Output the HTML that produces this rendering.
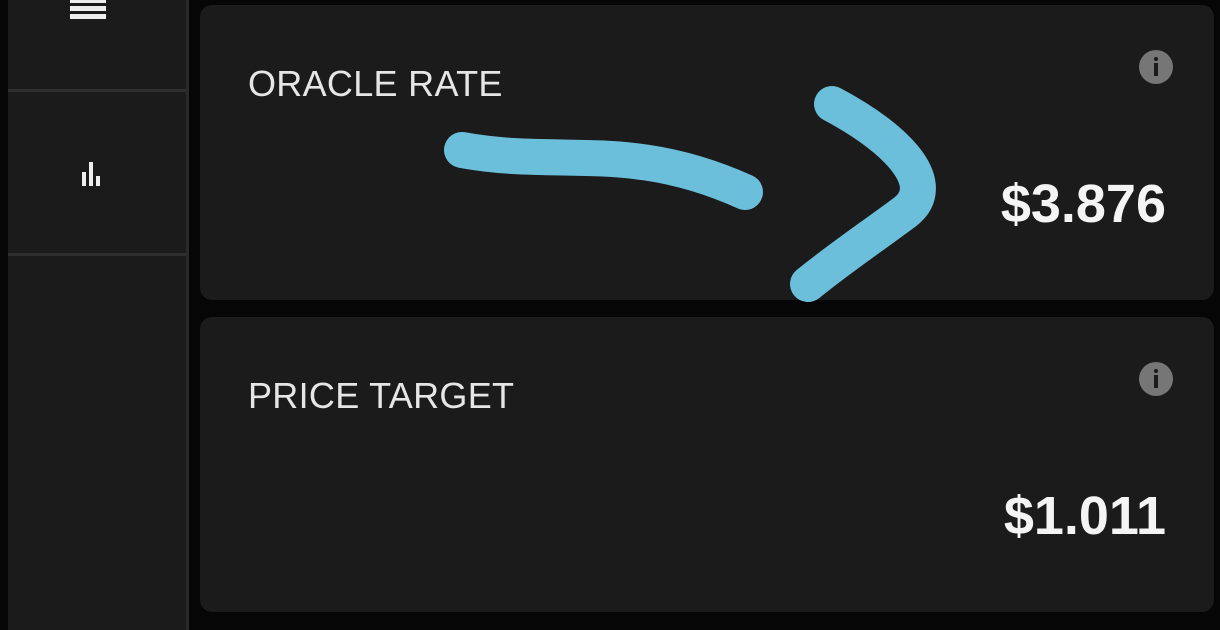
<!DOCTYPE html>
<html><head><meta charset="utf-8"><style>
html,body{margin:0;padding:0;background:#060606;width:1220px;height:618px;overflow:hidden;font-family:"Liberation Sans",sans-serif}
.side{position:absolute;left:8px;top:-10px;width:178px;height:640px;background:#1b1b1b;border-right:3px solid #2a2a2a}
.div{position:absolute;left:0;width:178px;height:3px;background:#2e2e2e}
.card{position:absolute;left:200px;width:1014px;height:295px;background:#1b1b1b;border-radius:12px}
.label{position:absolute;left:48px;top:58px;font-size:36px;color:#e6e6e6;font-weight:300;letter-spacing:0.3px}
.val{position:absolute;right:48px;top:168px;font-size:54px;font-weight:bold;color:#f4f4f4}
.info{position:absolute;left:939px;top:45px;width:34px;height:34px;border-radius:50%;background:#767676}
.info::before{content:"";position:absolute;left:15px;top:7px;width:4px;height:4px;background:#1b1b1b;border-radius:50%}
.info::after{content:"";position:absolute;left:15px;top:13px;width:4px;height:13px;background:#1b1b1b}
</style></head><body>
<div class="side">
  <div style="position:absolute;left:62px;top:8px;width:36px;height:22px">
    <div style="height:5px;background:#eee;margin-bottom:3px"></div><div style="height:5px;background:#eee;margin-bottom:3px"></div><div style="height:5px;background:#eee"></div>
  </div>
  <div class="div" style="top:99px"></div>
  <div style="position:absolute;left:67px;top:170px;width:26px;height:26px">
    <div style="position:absolute;left:7px;bottom:0;width:4px;height:14px;background:#eee"></div>
    <div style="position:absolute;left:14px;bottom:0;width:4px;height:24px;background:#eee"></div>
    <div style="position:absolute;left:21px;bottom:0;width:4px;height:10px;background:#eee"></div>
  </div>
  <div class="div" style="top:263px"></div>
</div>
<div class="card" style="top:5px">
  <div class="label">ORACLE RATE</div>
  <div class="info"></div>
  <div class="val">$3.876</div>
</div>
<div class="card" style="top:317px">
  <div class="label">PRICE TARGET</div>
  <div class="info"></div>
  <div class="val">$1.011</div>
</div>
<svg width="1220" height="618" style="position:absolute;left:0;top:0">
  <path d="M462,150 C560,168 630,140 745,192" fill="none" stroke="#6cbfdb" stroke-width="36" stroke-linecap="round"/>
  <path d="M832,104 C900,140 940,185 905,212 C870,238 840,258 808,284" fill="none" stroke="#6cbfdb" stroke-width="36" stroke-linecap="round" stroke-linejoin="round"/>
</svg>
</body></html>
